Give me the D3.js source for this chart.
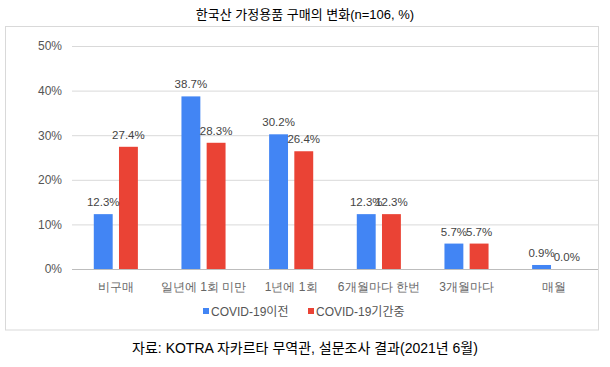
<!DOCTYPE html>
<html><head><meta charset="utf-8">
<script src="https://cdn.jsdelivr.net/npm/d3@7"></script>
<style>
body{margin:0;background:#fff;}
svg{display:block;font-family:"Liberation Sans","Noto Sans CJK KR",Arial,sans-serif;}
</style></head>
<body><svg id="c" width="610" height="367"></svg>
<script>
const title = "한국산 가정용품 구매의 변화(n=106, %)";
const source = "자료: KOTRA 자카르타 무역관, 설문조사 결과(2021년 6월)";
const categories = ["비구매","일년에 1회 미만","1년에 1회","6개월마다 한번","3개월마다","매월"];
const seriesNames = ["COVID-19이전","COVID-19기간중"];
const before = [12.3, 38.7, 30.2, 12.3, 5.7, 0.9];
const during = [27.4, 28.3, 26.4, 12.3, 5.7, 0.0];
const yTicks = [0,10,20,30,40,50];
const colors = ["#4285F4","#EA4335"];

const svg = d3.select("#c");
const pL=72,pR=598,pT=46,pB=269;

svg.append("text").attr("x",305).attr("y",19).attr("text-anchor","middle")
  .attr("font-size",13).attr("fill","#000").text(title);

svg.append("rect").attr("x",5.5).attr("y",26.5).attr("width",593).attr("height",303.5)
  .attr("fill","none").attr("stroke","#d9d9d9");

const y = d3.scaleLinear().domain([0,50]).range([pB,pT]);
const x0 = d3.scaleBand().domain(categories).range([pL,pR]).paddingInner(0.497).paddingOuter(0.2485);
const x1 = d3.scaleBand().domain(seriesNames).range([0,x0.bandwidth()]).paddingInner(0.25);

const yAxis = d3.axisLeft(y).tickValues(yTicks).tickSize(-(pR-pL)).tickFormat(d=>d+"%");
const ga = svg.append("g").attr("transform",`translate(${pL},0)`).call(yAxis);
ga.select(".domain").remove();
ga.selectAll(".tick line").attr("stroke","#d9d9d9").attr("stroke-width",1);
ga.selectAll(".tick text").attr("x",-10).attr("font-size",12).attr("fill","#555").attr("font-family","inherit");
ga.selectAll(".tick").filter(d=>d===0).select("line").attr("stroke","#bdbdbd");

const xAxis = d3.axisBottom(x0).tickSize(0);
const gx = svg.append("g").attr("transform",`translate(0,${pB})`).call(xAxis);
gx.select(".domain").remove();
gx.selectAll(".tick text").attr("dy",0).attr("y",22).attr("font-size",12).attr("fill","#666").attr("font-family","inherit");

const data = categories.map((c,i)=>({cat:c, vals:[{s:seriesNames[0],v:before[i],ci:0},{s:seriesNames[1],v:during[i],ci:1}]}));
const groups = svg.selectAll("g.grp").data(data).join("g").attr("class","grp")
  .attr("transform",d=>`translate(${x0(d.cat)},0)`);
groups.selectAll("rect").data(d=>d.vals).join("rect")
  .attr("x",d=>x1(d.s)).attr("width",x1.bandwidth())
  .attr("y",d=>y(d.v)).attr("height",d=>y(0)-y(d.v))
  .attr("fill",d=>colors[d.ci]);
groups.selectAll("text").data(d=>d.vals).join("text")
  .attr("x",d=>x1(d.s)+x1.bandwidth()/2).attr("y",d=>y(d.v)-8)
  .attr("text-anchor","middle").attr("font-size",11.5).attr("fill","#444")
  .text(d=>d.v.toFixed(1)+"%");

const legend = svg.append("g");
const lx=[203,308];
seriesNames.forEach((s,i)=>{
  legend.append("rect").attr("x",lx[i]).attr("y",308).attr("width",6).attr("height",6).attr("fill",colors[i]);
  legend.append("text").attr("x",lx[i]+8).attr("y",316).attr("font-size",12).attr("fill","#555").text(s);
});

svg.append("text").attr("x",305).attr("y",353).attr("text-anchor","middle")
  .attr("font-size",14).attr("fill","#000").text(source);
</script></body></html>
